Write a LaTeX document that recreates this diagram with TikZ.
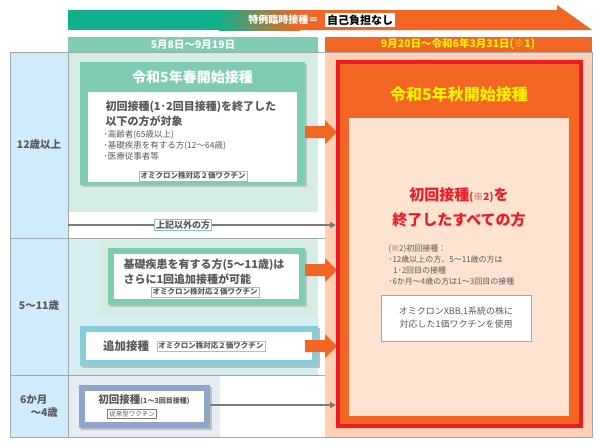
\documentclass[tikz,border=0pt]{standalone}
\usepackage{fontspec}
\setmainfont{Noto Sans CJK JP}
\usetikzlibrary{positioning,arrows.meta}
\definecolor{mint}{HTML}{7FCCB3}
\definecolor{mintbg}{HTML}{D5ECE4}
\definecolor{tealb}{HTML}{86CFDA}
\definecolor{tealbg}{HTML}{D6EEF2}
\definecolor{slate}{HTML}{8FA6CC}
\definecolor{slatebg}{HTML}{E6ECF4}
\definecolor{skybg}{HTML}{D0EBF9}
\definecolor{ora}{HTML}{F26522}
\definecolor{orabg}{HTML}{FDCFB3}
\definecolor{peach}{HTML}{FEE3D0}
\definecolor{redb}{HTML}{ED1C24}
\definecolor{txt}{HTML}{595959}
\definecolor{gline}{HTML}{A0A8AE}
\definecolor{yel}{HTML}{FFF200}
\definecolor{banngreen}{HTML}{10AF8C}
\tikzset{
  tag/.style={draw=#1,fill=white,line width=0.8pt,inner sep=1.5pt,font=\fontsize{7.5}{9}\selectfont\bfseries,text=txt},
  agelbl/.style={font=\fontsize{10.5}{13}\selectfont\bfseries,text=txt,align=center},
  body/.style={font=\fontsize{11}{15}\selectfont\bfseries,text=txt,align=left},
  small/.style={font=\fontsize{8.5}{11}\selectfont,text=txt,align=left},
  conn/.style={-{Triangle[length=6pt,width=6pt]},line width=1.6pt,draw=txt!80},
}
\newcommand{\blockarrow}[2]{\fill[ora] (#1,#2-6) -- (#1+20,#2-6) -- (#1+20,#2-12) -- (#1+32,#2) -- (#1+20,#2+12) -- (#1+20,#2+6) -- (#1,#2+6) -- cycle;}
\begin{document}
\begin{tikzpicture}[x=1pt,y=-1pt]
\useasboundingbox (0,0) rectangle (600,445);
\fill[white] (0,0) rectangle (600,445);

% top banner
\fill[banngreen] (68,10) rectangle (220,30);
\shade[left color=banngreen,right color=ora] (219,10) rectangle (300,30);
\fill[ora] (299,10) -- (557,10) -- (557,5) -- (592,30) -- (299,30) -- cycle;
\node[anchor=east,text=white,font=\fontsize{10}{11}\selectfont\bfseries] (kind) at (322,20) {特例臨時接種＝};
\node[right=3pt of kind,fill=white,inner sep=2pt,font=\fontsize{11}{12}\selectfont\bfseries,text=black] (free) {自己負担なし};

% period headers
\fill[mint] (68,37) rectangle (318,52);
\fill[ora] (325,37) rectangle (592,52);
\node[text=white,font=\fontsize{10.5}{11}\selectfont\bfseries] (spring) at (193,44.5) {5月8日～9月19日};
\node[text=yel,font=\fontsize{10.5}{11}\selectfont\bfseries] (autumn) at (458,44.5) {9月20日～令和6年3月31日(※1)};

% backgrounds
\fill[skybg] (10,52) rectangle (68,437);
\fill[mintbg] (68,52) rectangle (318,212);
\fill[tealbg] (68,238) rectangle (318,375);
\fill[mintbg] (98,240) rectangle (318,315);
\fill[slatebg] (68,375) rectangle (220,437);
\fill[orabg] (325,52) rectangle (592,437);
\draw[gline,line width=0.6pt] (10,52) rectangle (592,437);
\draw[gline,line width=0.6pt] (10,238) -- (325,238) (10,375) -- (325,375) (68,52) -- (68,437);

% age labels
\node[agelbl] (a12) at (39,145) {12歳以上};
\node[agelbl] (a5) at (39,306) {5～11歳};
\node[agelbl,align=left] (a6) at (39,406) {6か月\\\hspace*{1em}～4歳};

% spring box
\fill[black!25] (82,64) rectangle (307,187);
\fill[mint] (80,62) rectangle (305,185);
\node[text=white,font=\fontsize{14}{15}\selectfont\bfseries] (springttl) at (192.5,77) {令和5年春開始接種};
\fill[white] (88,92) rectangle (297,182);
\node[body,anchor=north west] (sp1) at (102,98) {初回接種(1･2回目接種)を終了した\\以下の方が対象};
\node[small,anchor=north west] (sp2) at (100,127) {･高齢者(65歳以上)\\･基礎疾患を有する方(12～64歳)\\･医療従事者等};
\node[tag=mint] (sptag) at (193,176) {オミクロン株対応２価ワクチン};
\blockarrow{305}{132}

% others line
\coordinate (oth0) at (68,225);
\coordinate (oth1) at (336,225);
\node[tag=mint,font=\fontsize{9}{10}\selectfont\bfseries] (others) at (183,225) {上記以外の方};
\draw[conn] (oth0) -- (others) -- (oth1);

% 5-11 box
\fill[black!25] (110,250) rectangle (307,307);
\fill[mint] (108,248) rectangle (305,305);
\fill[white] (114,254) rectangle (299,299);
\node[body,anchor=north west] (k1) at (120,255) {基礎疾患を有する方(5～11歳)は\\さらに1回追加接種が可能};
\node[tag=mint] (ktag) at (205,292) {オミクロン株対応２価ワクチン};
\blockarrow{305}{270}

% booster box
\fill[black!25] (82,328) rectangle (320,368);
\fill[tealb] (80,326) rectangle (318,366);
\fill[white] (86,332) rectangle (312,360);
\node[body,font=\fontsize{11.5}{13}\selectfont\bfseries] (boost) at (126,346) {追加接種};
\node[tag=tealb,right=4pt of boost] (btag) {オミクロン株対応２価ワクチン};
\blockarrow{305}{346}

% 6m-4 box
\fill[black!25] (81,387) rectangle (212,430);
\fill[slate] (79,385) rectangle (210,428);
\fill[white] (85,391) rectangle (204,422);
\node[body,font=\fontsize{10.5}{12}\selectfont\bfseries] (ini) at (144,400) {初回接種{\fontsize{7}{8}\selectfont(1～3回目接種)}};
\node[tag=txt!80,font=\fontsize{6.5}{8}\selectfont] (itag) at (132,414) {従来型ワクチン};
\coordinate (ini0) at (210,405);
\coordinate (ini1) at (336,405);
\draw[conn] (ini0) -- (ini1);

% autumn box
\fill[redb] (336,60) rectangle (583,428);
\fill[ora] (340,64) rectangle (579,424);
\fill[peach] (349,118) rectangle (569,416);
\node[text=yel,font=\fontsize{16}{17}\selectfont\bfseries] (autttl) at (459,94) {令和5年秋開始接種};
\node[text=redb,font=\fontsize{15}{25}\selectfont\bfseries,align=center] (allp) at (459,207)
  {初回接種{\fontsize{10}{11}\selectfont(※2)}を\\終了したすべての方};
\node[small,anchor=north west,font=\fontsize{8}{11}\selectfont] (note) at (385,241) {(※2)初回接種：\\･12歳以上の方、5～11歳の方は\\\hspace*{0.6em}1･2回目の接種\\･6か月～4歳の方は1～3回目の接種};
\node[draw=gline,fill=white,line width=0.8pt,minimum width=150pt,minimum height=46pt,font=\fontsize{9}{13}\selectfont,text=txt,align=center] (xbb) at (456,318) {オミクロンXBB.1系統の株に\\対応した1価ワクチンを使用};
\end{tikzpicture}
\end{document}
